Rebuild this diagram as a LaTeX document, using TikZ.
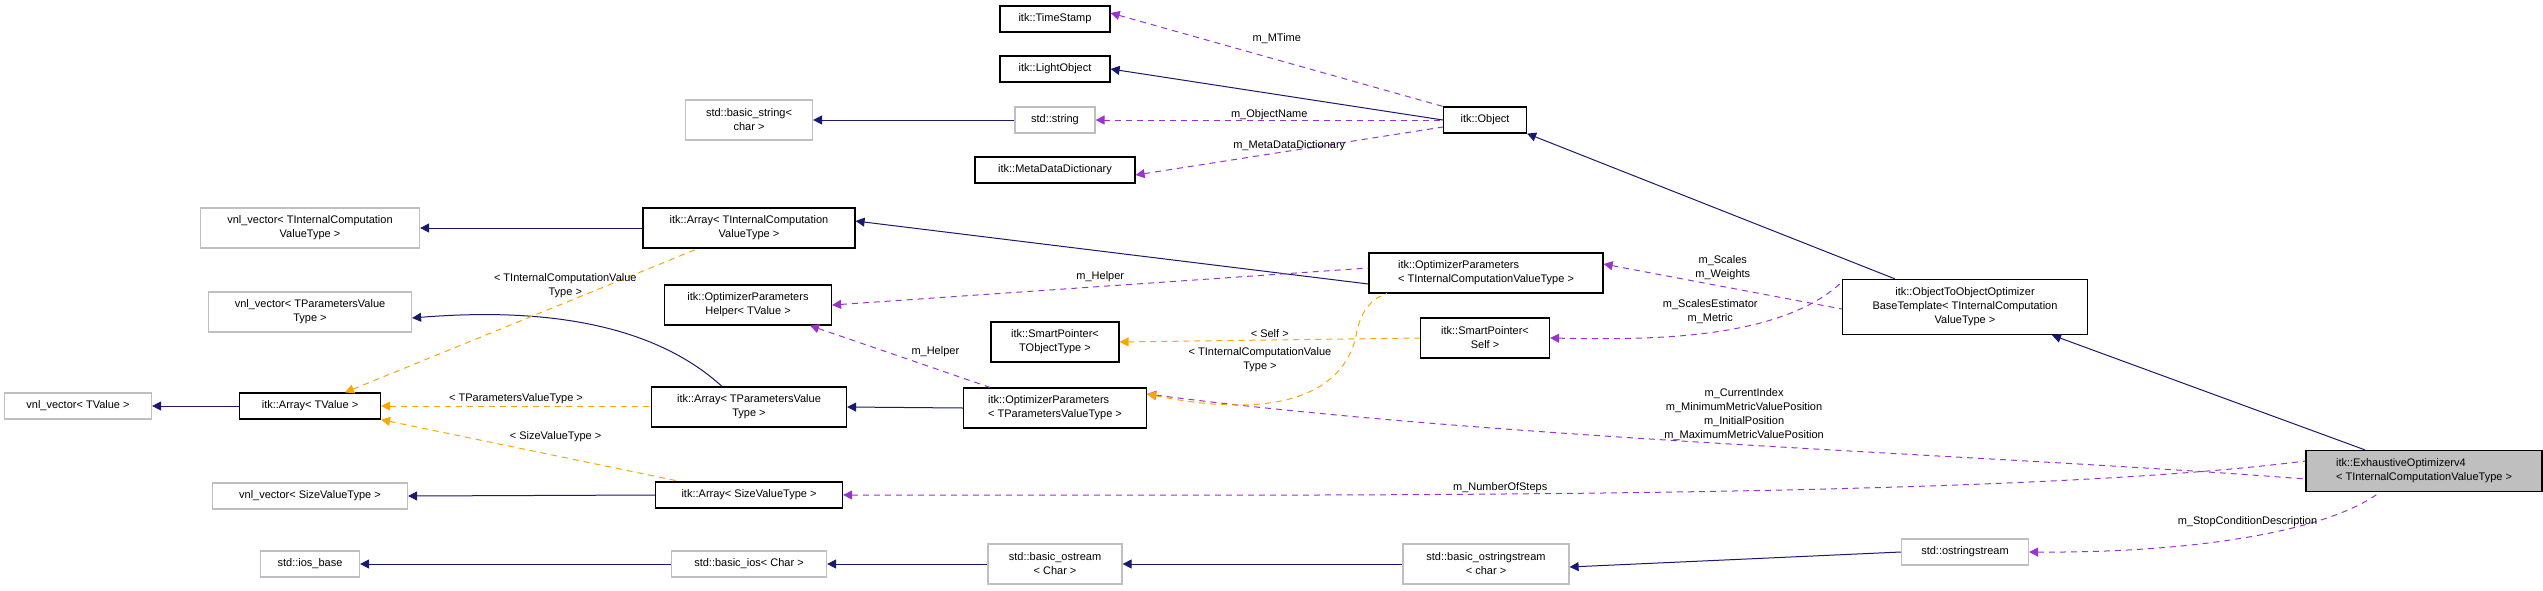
\documentclass[tikz,border=0pt]{standalone}
\usepackage{fontspec}
\setmainfont{Liberation Sans}
\usetikzlibrary{arrows.meta}
\definecolor{inh}{HTML}{191970}
\definecolor{mem}{HTML}{9A32CD}
\definecolor{tpl}{HTML}{FFA500}
\begin{document}
\begin{tikzpicture}[x=1pt,y=-1pt,
  every node/.style={font=\fontsize{11}{14}\selectfont,align=center,inner sep=2pt},
  doc/.style={draw=black,line width=1.2pt,fill=white},
  ext/.style={draw=black!25,line width=1.2pt,fill=white},
  lab/.style={font=\fontsize{11}{14}\selectfont},
  inhe/.style={draw=inh,line width=1pt,{Triangle[length=9pt,width=9pt]}-},
  memb/.style={draw=mem,line width=1pt,dash pattern=on 6pt off 5pt,{Triangle[length=9pt,width=9pt]}-},
  tmpl/.style={draw=tpl,line width=1pt,dash pattern=on 6pt off 5pt,{Triangle[length=9pt,width=9pt]}-}]
\useasboundingbox (0,0) rectangle (2543,590);
\newcommand{\bx}[6]{\node[#1,minimum width=#4pt,minimum height=#5pt] (#2) at #3 {#6};}
\bx{doc}{ts}{(1055,19)}{110}{26}{itk::TimeStamp}
\bx{doc}{lo}{(1055,69)}{110}{26}{itk::LightObject}
\bx{ext}{bs}{(749,120)}{127}{40}{std::basic\_string\textless\\char \textgreater}
\bx{ext}{ss}{(1055,120)}{80}{26}{std::string}
\bx{doc}{md}{(1055,170)}{160}{26}{itk::MetaDataDictionary}
\bx{doc}{ob}{(1485,120)}{83}{26}{itk::Object}
\bx{ext}{vtic}{(310,228)}{219}{40}{vnl\_vector\textless{} TInternalComputation\\ValueType \textgreater}
\bx{doc}{atic}{(749,228)}{212}{40}{itk::Array\textless{} TInternalComputation\\ValueType \textgreater}
\bx{doc,align=left}{optic}{(1486,273)}{234}{40}{itk::OptimizerParameters\\\textless{} TInternalComputationValueType \textgreater}
\bx{doc}{oto}{(1965,307)}{245}{55}{itk::ObjectToObjectOptimizer\\BaseTemplate\textless{} TInternalComputation\\ValueType \textgreater}
\bx{ext}{vtp}{(310,312)}{203}{40}{vnl\_vector\textless{} TParametersValue\\Type \textgreater}
\bx{doc}{hel}{(748,305)}{167}{40}{itk::OptimizerParameters\\Helper\textless{} TValue \textgreater}
\bx{doc}{spt}{(1055,342)}{128}{40}{itk::SmartPointer\textless\\TObjectType \textgreater}
\bx{doc}{sps}{(1485,338)}{129}{40}{itk::SmartPointer\textless\\Self \textgreater}
\bx{ext}{vtv}{(78,406)}{147}{26}{vnl\_vector\textless{} TValue \textgreater}
\bx{doc}{atv}{(310,406)}{141}{26}{itk::Array\textless{} TValue \textgreater}
\bx{doc}{atp}{(749,407)}{195}{40}{itk::Array\textless{} TParametersValue\\Type \textgreater}
\bx{doc,align=left}{optp}{(1055,408)}{183}{40}{itk::OptimizerParameters\\\textless{} TParametersValueType \textgreater}
\bx{ext}{vsz}{(310,496)}{195}{26}{vnl\_vector\textless{} SizeValueType \textgreater}
\bx{doc}{asz}{(749,495)}{187}{26}{itk::Array\textless{} SizeValueType \textgreater}
\bx{ext}{iob}{(310,564)}{99}{26}{std::ios\_base}
\bx{ext}{bio}{(749,564)}{155}{26}{std::basic\_ios\textless{} Char \textgreater}
\bx{ext}{bos}{(1055,564)}{134}{40}{std::basic\_ostream\\\textless{} Char \textgreater}
\bx{ext}{boss}{(1486,564)}{166}{40}{std::basic\_ostringstream\\\textless{} char \textgreater}
\bx{ext}{oss}{(1965,552)}{127}{26}{std::ostringstream}
\node[doc,fill=black!25,minimum width=236pt,minimum height=41pt,align=left] (ex) at (2424,471) {itk::ExhaustiveOptimizerv4\\\textless{} TInternalComputationValueType \textgreater};
% inheritance
\draw[inhe] (lo.east) -- (ob.west);
\draw[inhe] (bs.east) -- (ss.west);
\draw[inhe] (ob.south east) -- (oto.north west -| 1895,0);
\draw[inhe] (oto.south -| 2052,0) -- (ex.north -| 2365,0);
\draw[inhe] (vtic.east) -- (atic.west);
\draw[inhe] ([yshift=7pt]atic.east) -- ([yshift=-11pt]optic.west);
\draw[inhe] ([yshift=-6pt]vtp.east) .. controls (560,306) and (660,330) .. (atp.north -| 722,0);
\draw[inhe] (vtv.east) -- (atv.west);
\draw[inhe] (atp.east) -- (optp.west);
\draw[inhe] (vsz.east) -- (asz.west);
\draw[inhe] (iob.east) -- (bio.west);
\draw[inhe] (bio.east) -- (bos.west);
\draw[inhe] (bos.east) -- (boss.west);
\draw[inhe] ([yshift=-3pt]boss.east) -- (oss.west);
% members
\draw[memb] ([yshift=6pt]ts.east) -- node[lab,above,pos=0.5,yshift=14pt]{m\_MTime} (ob.north west);
\draw[memb] (ss.east) -- node[lab,above,yshift=-2pt]{m\_ObjectName} (ob.west);
\draw[memb] ([yshift=-5pt]md.east) -- node[lab,above,yshift=-2pt]{m\_MetaDataDictionary} ([yshift=-7pt]ob.west);
\draw[memb] (hel.east) -- node[lab,above,yshift=2pt]{m\_Helper} ([yshift=5pt]optic.west);
\draw[memb] (hel.south -| 810,0) -- node[lab,above right,pos=0.55]{m\_Helper} (optp.north -| 990,0);
\draw[memb] ([yshift=9pt]optic.east) -- node[lab,above,yshift=4pt]{m\_Scales\\m\_Weights} ([yshift=-2pt]oto.west);
\draw[memb] (sps.east) .. controls (1650,340) and (1780,340) .. node[lab,above,yshift=6pt]{m\_ScalesEstimator\\m\_Metric} ([yshift=25pt]oto.west);
\draw[memb] ([yshift=14pt]optp.east) .. controls (1500,440) and (2000,455) .. node[lab,above,pos=0.5,yshift=2pt]{m\_CurrentIndex\\m\_MinimumMetricValuePosition\\m\_InitialPosition\\m\_MaximumMetricValuePosition} ([yshift=-8pt]ex.west);
\draw[memb] (asz.east) .. controls (1300,495) and (2000,500) .. node[lab,above,pos=0.42,yshift=-1pt]{m\_NumberOfSteps} ([yshift=10pt]ex.west);
\draw[memb] (oss.east) .. controls (2200,553) and (2330,530) .. node[lab,above,pos=0.55,xshift=-20pt,yshift=4pt]{m\_StopConditionDescription} (ex.south -| 2380,0);
% templates
\draw[tmpl] (atv.north -| 345,0) -- node[lab,above right,pos=0.5,xshift=-30pt,yshift=20pt]{\textless{} TInternalComputationValue\\Type \textgreater} (atic.south -| 698,0);
\draw[tmpl] (atv.east) -- node[lab,above]{\textless{} TParametersValueType \textgreater} (atp.west |- 0,406);
\draw[tmpl] (atv.south east) -- node[lab,above,xshift=25pt,yshift=6pt]{\textless{} SizeValueType \textgreater} (asz.north -| 680,0);
\draw[tmpl] (spt.east) -- node[lab,above]{\textless{} Self \textgreater} (sps.west);
\draw[tmpl] ([yshift=14pt]optp.east) .. controls (1300,425) and (1350,380) .. (1357,330) .. controls (1362,310) and (1372,298) .. (optic.south -| 1387,0);
\node[lab] (tl) at (1260,360) {\textless{} TInternalComputationValue\\Type \textgreater};
\end{tikzpicture}
\end{document}
